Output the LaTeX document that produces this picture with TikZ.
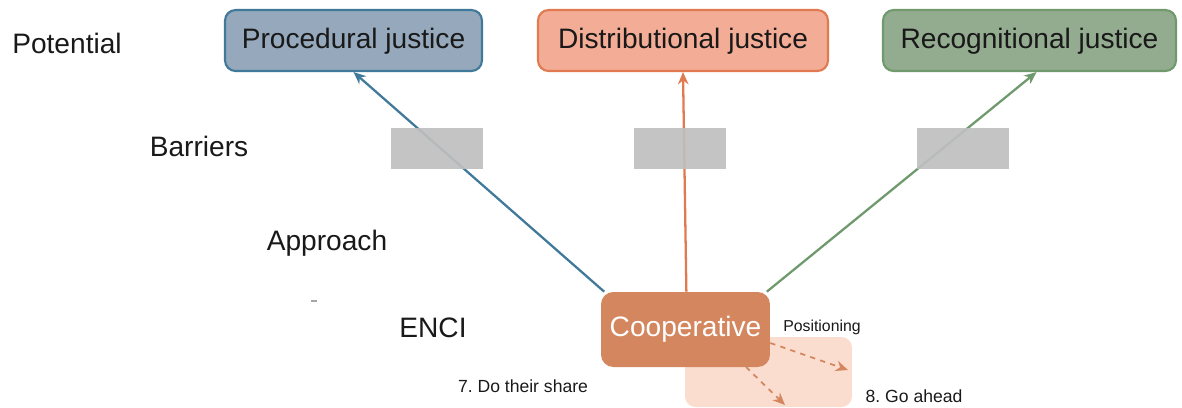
\documentclass[tikz,border=0pt]{standalone}
\usepackage{fontspec}
\setmainfont{Liberation Sans}
\usepackage{tikz}
\usetikzlibrary{arrows.meta}
\frenchspacing
\definecolor{procfill}{RGB}{149,168,188}
\definecolor{procline}{RGB}{64,121,153}
\definecolor{distfill}{RGB}{243,172,149}
\definecolor{distline}{RGB}{224,122,80}
\definecolor{recfill}{RGB}{147,171,143}
\definecolor{recline}{RGB}{112,154,110}
\definecolor{coopfill}{RGB}{212,135,95}
\definecolor{posfill}{RGB}{250,221,206}
\definecolor{barfill}{RGB}{191,191,191}
\tikzset{
    every node/.style={font=\fontsize{16}{19}\selectfont, text=black!90},
    justice/.style={rectangle, rounded corners=6pt, line width=1.2pt,
        minimum height=1.22cm, inner sep=0pt, text height=11.5pt,
        text depth=2.5pt},
    barrier/.style={rectangle, fill=barfill, fill opacity=0.92,
        minimum width=1.84cm, minimum height=0.82cm, inner sep=0pt},
    small/.style={font=\fontsize{10}{12}\selectfont},
    link/.style={line width=1.3pt, -{Stealth[length=7pt,width=6pt]}},
    move/.style={coopfill, line width=1pt, dashed,
        -{Stealth[length=7pt,width=6pt]}}
}
\begin{document}
\begin{tikzpicture}[x=0.02cm, y=-0.02cm]
	\useasboundingbox (0,0) rectangle (1182,407);
	\node (potential) at (67,43) {Potential};
	\node (barriers) at (199,146) {Barriers};
	\node (approach) at (327,243) {Approach};
	\node (enci) at (433,328) {ENCI};
	\node (tick) [fill=gray!70, minimum width=0.12cm, minimum height=0.04cm,
		inner sep=0pt] at (314,301) {};
	
	\node (proc) [justice, fill=procfill, draw=procline, minimum width=5.14cm]
		at (353.5,40.5) {Procedural justice};
	\node (dist) [justice, fill=distfill, draw=distline, minimum width=5.8cm]
		at (683,40.5) {Distributional justice};
	\node (rec) [justice, fill=recfill, draw=recline, minimum width=5.86cm]
		at (1029.5,40.5) {Recognitional justice};
	
	\node (pos) [rectangle, rounded corners=6pt, fill=posfill, inner sep=0pt,
		minimum width=3.34cm, minimum height=1.4cm] at (768.5,372) {};
	\node (coop) [rectangle, rounded corners=7pt, fill=coopfill, text=white,
		minimum width=3.38cm, minimum height=1.5cm, inner sep=0pt,
		font=\fontsize{16}{19}\selectfont] at (685.5,329.5) {Cooperative};
	
	\draw [link, procline] ([xshift=2pt]coop.north west) -- (proc.south);
	\draw [link, distline] ([xshift=0.5pt]coop.north) -- (dist.south);
	\draw [link, recline] ([xshift=-2pt]coop.north east) -- ([xshift=4pt]rec.south);
	
	\node (bar1) [barrier] at (437,148.5) {};
	\node (bar2) [barrier] at (680,148.5) {};
	\node (bar3) [barrier] at (963,148.5) {};
	
	\coordinate (ahead) at (848,370);
	\coordinate (share) at (785,405);
	\draw [move] (coop.east |- 0,343) -- (ahead);
	\draw [move] (746,367) -- (share);
	
	\node (positioning) [small, font=\fontsize{9}{11}\selectfont] at (822,327) {Positioning};
	\node (doshare) [small] at (523,386) {7. Do their share};
	\node (goahead) [small] at (914,396) {8. Go ahead};
\end{tikzpicture}
\end{document}
